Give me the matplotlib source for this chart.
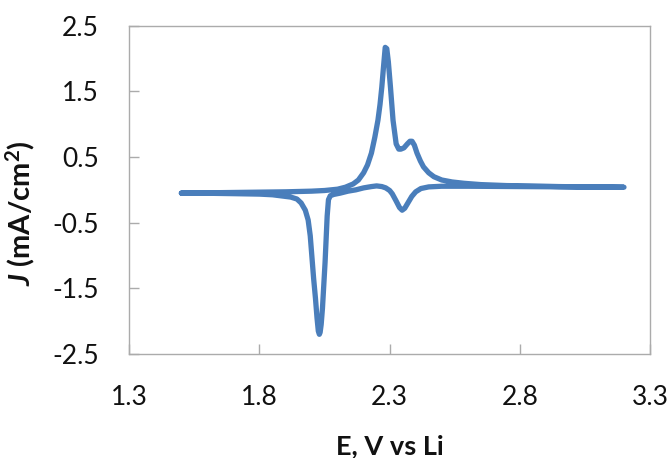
import matplotlib
matplotlib.use("Agg")
import matplotlib.pyplot as plt

# Anodic sweep (left -> right)
anodic_E = [1.50, 1.60, 1.70, 1.80, 1.90, 2.00, 2.05, 2.10, 2.13, 2.16, 2.18, 2.20,
            2.215, 2.23, 2.243, 2.255, 2.263, 2.27, 2.277, 2.283, 2.289, 2.295, 2.303,
            2.313, 2.325, 2.335, 2.343, 2.355, 2.368, 2.378, 2.386, 2.395, 2.405, 2.418,
            2.43, 2.45, 2.47, 2.50, 2.54, 2.585, 2.65, 2.75, 2.84, 2.95, 3.05, 3.20]
anodic_J = [-0.05, -0.045, -0.04, -0.035, -0.03, -0.02, -0.01, 0.01, 0.04, 0.09, 0.15, 0.26,
            0.38, 0.56, 0.80, 1.06, 1.30, 1.57, 1.90, 2.17, 2.15, 1.95, 1.57,
            1.06, 0.70, 0.62, 0.62, 0.64, 0.70, 0.74, 0.74, 0.68, 0.56, 0.44,
            0.35, 0.26, 0.20, 0.15, 0.12, 0.10, 0.08, 0.065, 0.06, 0.05, 0.045, 0.04]

# Cathodic sweep (right -> left)
cathodic_E = [3.20, 3.00, 2.80, 2.60, 2.50, 2.45, 2.42, 2.40, 2.385, 2.37, 2.358, 2.348,
              2.338, 2.325, 2.31, 2.30, 2.285, 2.27, 2.25, 2.23, 2.20, 2.17, 2.14, 2.11,
              2.085, 2.072, 2.065, 2.06, 2.056, 2.052, 2.047, 2.042, 2.037, 2.033, 2.030,
              2.026, 2.021, 2.015, 2.008, 2.001, 1.995, 1.987, 1.976, 1.96, 1.944, 1.92,
              1.90, 1.85, 1.80, 1.70, 1.60, 1.50]
cathodic_J = [0.04, 0.045, 0.05, 0.055, 0.055, 0.045, 0.02, -0.03, -0.10, -0.20, -0.28, -0.31,
              -0.27, -0.17, -0.06, -0.01, 0.03, 0.05, 0.06, 0.05, 0.03, 0.0, -0.02, -0.05,
              -0.07, -0.09, -0.15, -0.40, -0.75, -1.10, -1.45, -1.80, -2.05, -2.17, -2.20,
              -2.15, -1.95, -1.65, -1.35, -1.00, -0.70, -0.46, -0.31, -0.20, -0.14, -0.11,
              -0.10, -0.075, -0.065, -0.058, -0.052, -0.05]

xticks = [1.3, 1.8, 2.3, 2.8, 3.3]
yticks = [-2.5, -1.5, -0.5, 0.5, 1.5, 2.5]
xlabels = ["1.3", "1.8", "2.3", "2.8", "3.3"]
ylabels = ["-2.5", "-1.5", "-0.5", "0.5", "1.5", "2.5"]

plt.rcParams['font.family'] = ['Lato', 'DejaVu Sans']
plt.rcParams['mathtext.fontset'] = 'custom'
plt.rcParams['mathtext.rm'] = 'Lato:bold'
plt.rcParams['mathtext.it'] = 'Lato:italic:bold'
plt.rcParams['mathtext.bf'] = 'Lato:bold'
plt.rcParams['mathtext.bfit'] = 'Lato:italic:bold'

fig = plt.figure(figsize=(6.71, 4.58), dpi=100)
ax = fig.add_axes([129.3 / 671, 1 - 354 / 458, (650 - 129.3) / 671, (354 - 25.7) / 458])

color = '#4a7ebb'
E_all = anodic_E + cathodic_E
J_all = anodic_J + cathodic_J
ax.plot(E_all, J_all, color=color, lw=3.8, solid_joinstyle='round', solid_capstyle='round')

ax.set_xlim(1.3, 3.3)
ax.set_ylim(-2.5, 2.5)
ax.set_xticks(xticks)
ax.set_xticklabels(xlabels)
ax.set_yticks(yticks)
ax.set_yticklabels(ylabels)

for s in ax.spines.values():
    s.set_color('#ababab')
    s.set_linewidth(1.0)

ax.tick_params(axis='both', direction='in', length=7.5, width=1.0, color='#ababab',
               labelsize=19, labelcolor='#111111')
ax.tick_params(axis='x', pad=22)
ax.tick_params(axis='y', pad=22)

ax.set_xlabel('E, V vs Li', fontsize=19.5, fontweight='bold', color='#111111')
ax.xaxis.set_label_coords(0.5, -0.245)
ax.set_ylabel(r'$\mathit{J}$ (mA/cm$^{\mathrm{2}}$)', fontsize=21, fontweight='bold', color='#111111')
ax.yaxis.set_label_coords(-0.178, 0.43)

fig.savefig('out.png', dpi=100)
